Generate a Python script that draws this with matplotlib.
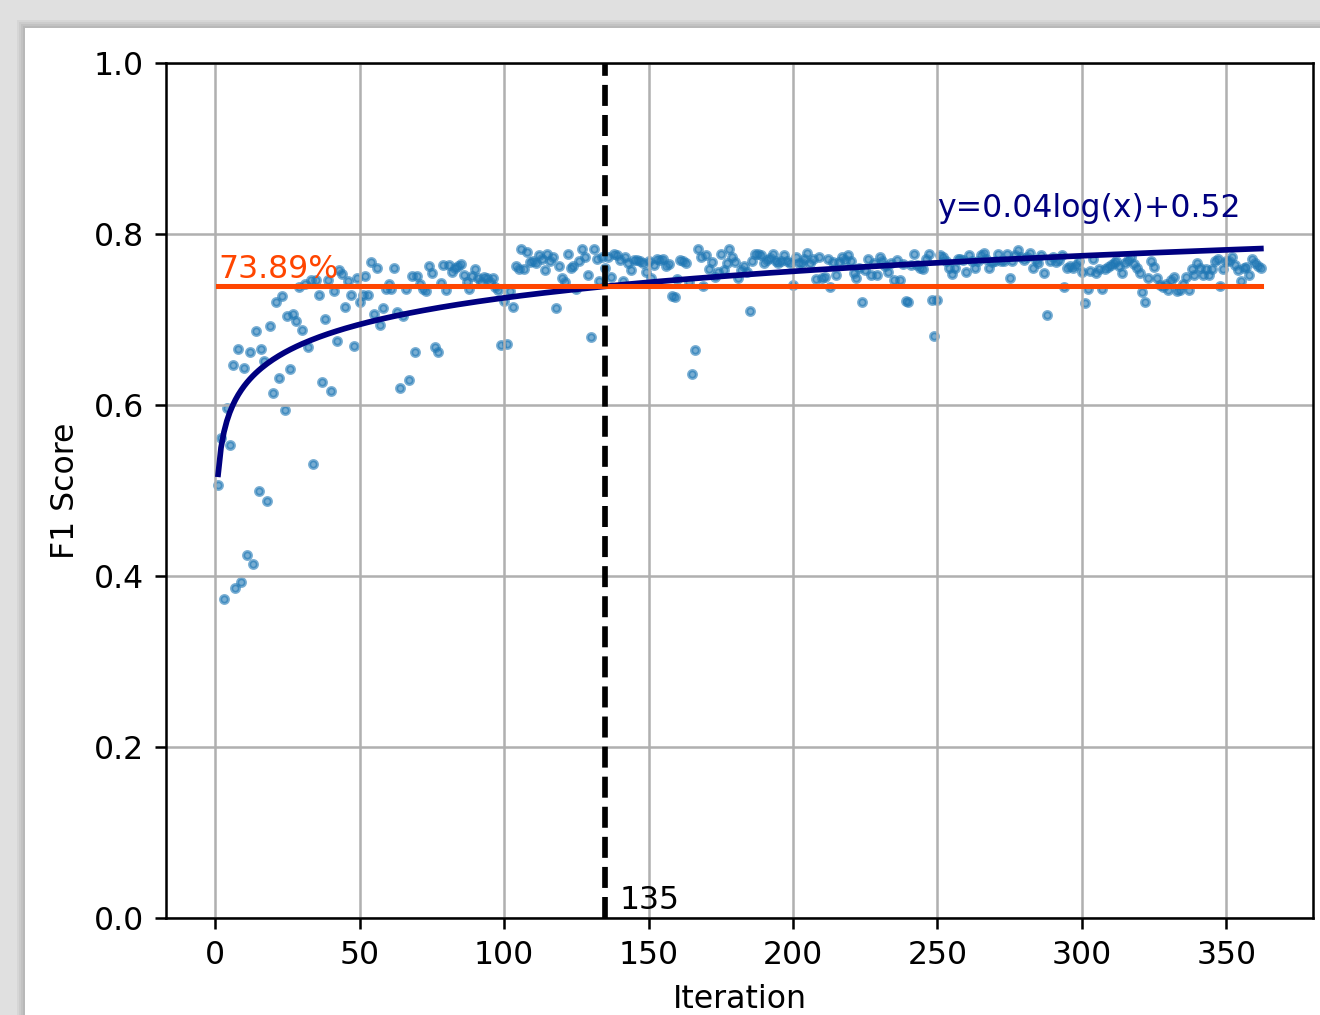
import numpy as np
import matplotlib
matplotlib.use('Agg')
import matplotlib.pyplot as plt
from matplotlib.patches import Rectangle

# F1 score per iteration (iterations 1..362)
f1_scores = [
    0.507, 0.561, 0.373, 0.597, 0.553, 0.647, 0.386, 0.666, 0.393, 0.643,
    0.425, 0.662, 0.414, 0.687, 0.499, 0.666, 0.651, 0.488, 0.692, 0.614,
    0.721, 0.631, 0.727, 0.594, 0.704, 0.642, 0.707, 0.698, 0.738, 0.688,
    0.742, 0.668, 0.746, 0.531, 0.746, 0.729, 0.627, 0.701, 0.746, 0.616,
    0.733, 0.675, 0.758, 0.753, 0.715, 0.745, 0.729, 0.669, 0.748, 0.721,
    0.729, 0.751, 0.729, 0.767, 0.706, 0.760, 0.693, 0.713, 0.736, 0.742,
    0.736, 0.760, 0.709, 0.620, 0.704, 0.736, 0.629, 0.751, 0.662, 0.751,
    0.742, 0.736, 0.733, 0.762, 0.754, 0.668, 0.662, 0.743, 0.764, 0.735,
    0.764, 0.755, 0.760, 0.763, 0.765, 0.752, 0.744, 0.736, 0.751, 0.759,
    0.748, 0.744, 0.750, 0.748, 0.744, 0.749, 0.738, 0.734, 0.670, 0.722,
    0.671, 0.733, 0.715, 0.763, 0.759, 0.783, 0.759, 0.779, 0.767, 0.769,
    0.766, 0.775, 0.771, 0.758, 0.777, 0.768, 0.773, 0.714, 0.763, 0.748,
    0.744, 0.777, 0.760, 0.762, 0.736, 0.768, 0.783, 0.773, 0.752, 0.679,
    0.783, 0.771, 0.745, 0.773, 0.760, 0.773, 0.750, 0.777, 0.775, 0.770,
    0.745, 0.773, 0.766, 0.758, 0.770, 0.770, 0.768, 0.766, 0.755, 0.769,
    0.748, 0.764, 0.771, 0.770, 0.771, 0.763, 0.765, 0.727, 0.726, 0.747,
    0.770, 0.768, 0.766, 0.744, 0.636, 0.664, 0.783, 0.773, 0.739, 0.775,
    0.759, 0.767, 0.750, 0.756, 0.777, 0.758, 0.766, 0.783, 0.773, 0.767,
    0.748, 0.758, 0.763, 0.756, 0.710, 0.768, 0.777, 0.777, 0.775, 0.766,
    0.770, 0.772, 0.777, 0.769, 0.766, 0.768, 0.775, 0.768, 0.766, 0.740,
    0.773, 0.766, 0.766, 0.771, 0.778, 0.766, 0.771, 0.747, 0.773, 0.748,
    0.750, 0.771, 0.738, 0.767, 0.752, 0.767, 0.773, 0.770, 0.775, 0.768,
    0.754, 0.748, 0.760, 0.721, 0.758, 0.771, 0.752, 0.766, 0.752, 0.773,
    0.768, 0.762, 0.756, 0.766, 0.746, 0.770, 0.746, 0.765, 0.722, 0.721,
    0.764, 0.777, 0.764, 0.760, 0.759, 0.771, 0.777, 0.723, 0.681, 0.723,
    0.775, 0.773, 0.768, 0.760, 0.753, 0.760, 0.771, 0.771, 0.770, 0.756,
    0.775, 0.768, 0.760, 0.768, 0.775, 0.778, 0.771, 0.760, 0.767, 0.768,
    0.777, 0.768, 0.768, 0.777, 0.749, 0.768, 0.775, 0.781, 0.773, 0.770,
    0.773, 0.778, 0.760, 0.770, 0.766, 0.775, 0.754, 0.705, 0.768, 0.773,
    0.767, 0.770, 0.775, 0.738, 0.760, 0.762, 0.760, 0.764, 0.768, 0.755,
    0.719, 0.736, 0.757, 0.771, 0.754, 0.759, 0.736, 0.759, 0.761, 0.764,
    0.766, 0.768, 0.763, 0.754, 0.766, 0.770, 0.773, 0.765, 0.760, 0.754,
    0.732, 0.721, 0.748, 0.768, 0.761, 0.748, 0.740, 0.738, 0.742, 0.735,
    0.746, 0.750, 0.733, 0.735, 0.742, 0.750, 0.735, 0.759, 0.752, 0.766,
    0.760, 0.752, 0.759, 0.752, 0.759, 0.769, 0.771, 0.739, 0.759, 0.768,
    0.768, 0.773, 0.764, 0.758, 0.745, 0.760, 0.761, 0.752, 0.771, 0.766,
    0.762, 0.760,
]
iterations = np.arange(1, len(f1_scores) + 1)

mean_f1 = 0.7389        # horizontal reference line
fit_a, fit_b = 0.0448, 0.519   # y = a*log(x) + b
cross_iter = 135        # where the fit reaches the mean

DPI = 227
fig = plt.figure(figsize=(1320 / DPI, 1015 / DPI), dpi=DPI, facecolor='#e0e0e0')
# screenshot-like white page with a soft shadow on grey background
for i, c in enumerate(['#d6d6d6', '#cccccc', '#c2c2c2', '#b8b8b8']):
    fig.patches.append(Rectangle(((17 + 2 * i) / 1320, 0), 1, 1 - (20 + 2 * i) / 1015,
                                 transform=fig.transFigure, facecolor=c,
                                 edgecolor='none', zorder=-2))
fig.patches.append(Rectangle((25 / 1320, 0), 1, 1 - 28 / 1015, transform=fig.transFigure,
                             facecolor='white', edgecolor='none', zorder=-1))

ax = fig.add_axes([166 / 1320, 1 - 918 / 1015, (1313 - 166) / 1320, (918 - 63) / 1015])

ax.scatter(iterations, f1_scores, s=6, alpha=0.6, color='C0')

fit_y = fit_a * np.log(iterations) + fit_b
ax.plot(iterations, fit_y, color='navy', lw=1.8)
ax.plot(iterations, np.full(len(iterations), mean_f1), color='orangered', lw=1.6)
ax.axvline(cross_iter, color='black', ls='--', lw=1.8)

ax.text(1, mean_f1 + 0.01, f'{mean_f1 * 100:.2f}%', color='orangered')
ax.text(250, 0.82, 'y=0.04log(x)+0.52', color='navy')
ax.text(cross_iter + 5, 0.01, str(cross_iter), color='black')

ax.set_ylim(0, 1.0)
ax.set_xlabel('Iteration')
ax.set_ylabel('F1 Score')
ax.grid(True)

fig.savefig('out.png', dpi=DPI, facecolor=fig.get_facecolor())
